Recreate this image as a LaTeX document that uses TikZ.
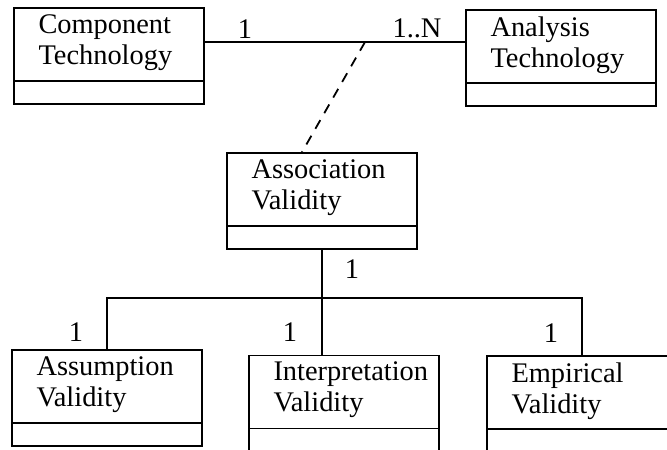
\documentclass[tikz,border=0pt]{standalone}
\usepackage{fontspec}
\setmainfont{Liberation Serif}
\usepackage{tikz}
\usetikzlibrary{calc}
\tikzset{
    classbox/.style={draw, line width=0.9pt, minimum width=95pt, minimum height=48pt, inner sep=0pt},
    classname/.style={anchor=north west, align=left, inner sep=0pt},
    mult/.style={inner sep=0pt},
    assoc/.style={line width=0.9pt},
    depend/.style={line width=0.9pt, dash pattern=on 5pt off 4pt}
}
% class box: name, position, text
\newcommand{\umlclass}[3]{%
  \node[classbox] (#1) at (#2) {};
  \node[classname] (#1-name) at ($(#1.north west)+(25,7)$) {#3};
  \draw[line width=0.9pt] ($(#1.south west)+(0,-24)$) -- ($(#1.south east)+(0,-24)$);
}

\begin{document}
\begin{tikzpicture}[x=0.5pt, y=-0.5pt, every node/.style={font=\fontsize{14.2}{15.5}\selectfont}]
  % Frame
  \useasboundingbox (0,0) rectangle (667,449);
  \clip (0,0) rectangle (667,449);

  % Classes
  \umlclass{comp}{109,56}{Component\\Technology}
  \umlclass{anal}{561,58}{Analysis\\Technology}
  \umlclass{valid}{322,201}{Association\\Validity}
  \umlclass{assum}{107,398}{Assumption\\Validity}
  \umlclass{interp}{344,403.5}{Interpretation\\Validity}
  \umlclass{emp}{582,404}{Empirical\\Validity}

  % Association between technologies
  \coordinate (link) at (365,42);
  \draw[assoc] (comp.east |- link) -- (anal.west |- link);
  \node[mult] (m1) at (245,29) {1};
  \node[mult] (mN) at (417,28) {1..N};

  % Association class link
  \coordinate (validTop) at ($(valid.north)+(-20,0)$);
  \draw[depend] (link) -- (validTop);

  % Tree below association validity
  \coordinate (bus) at (322,298);
  \draw[assoc] (valid.south) -- (interp.north -| valid.south);
  \draw[assoc] (assum.north) |- (bus) -| (emp.north);
  \node[mult] (m2) at (352,269) {1};
  \node[mult] (m3) at (76,332) {1};
  \node[mult] (m4) at (290,332) {1};
  \node[mult] (m5) at (551,333) {1};

\end{tikzpicture}
\end{document}
